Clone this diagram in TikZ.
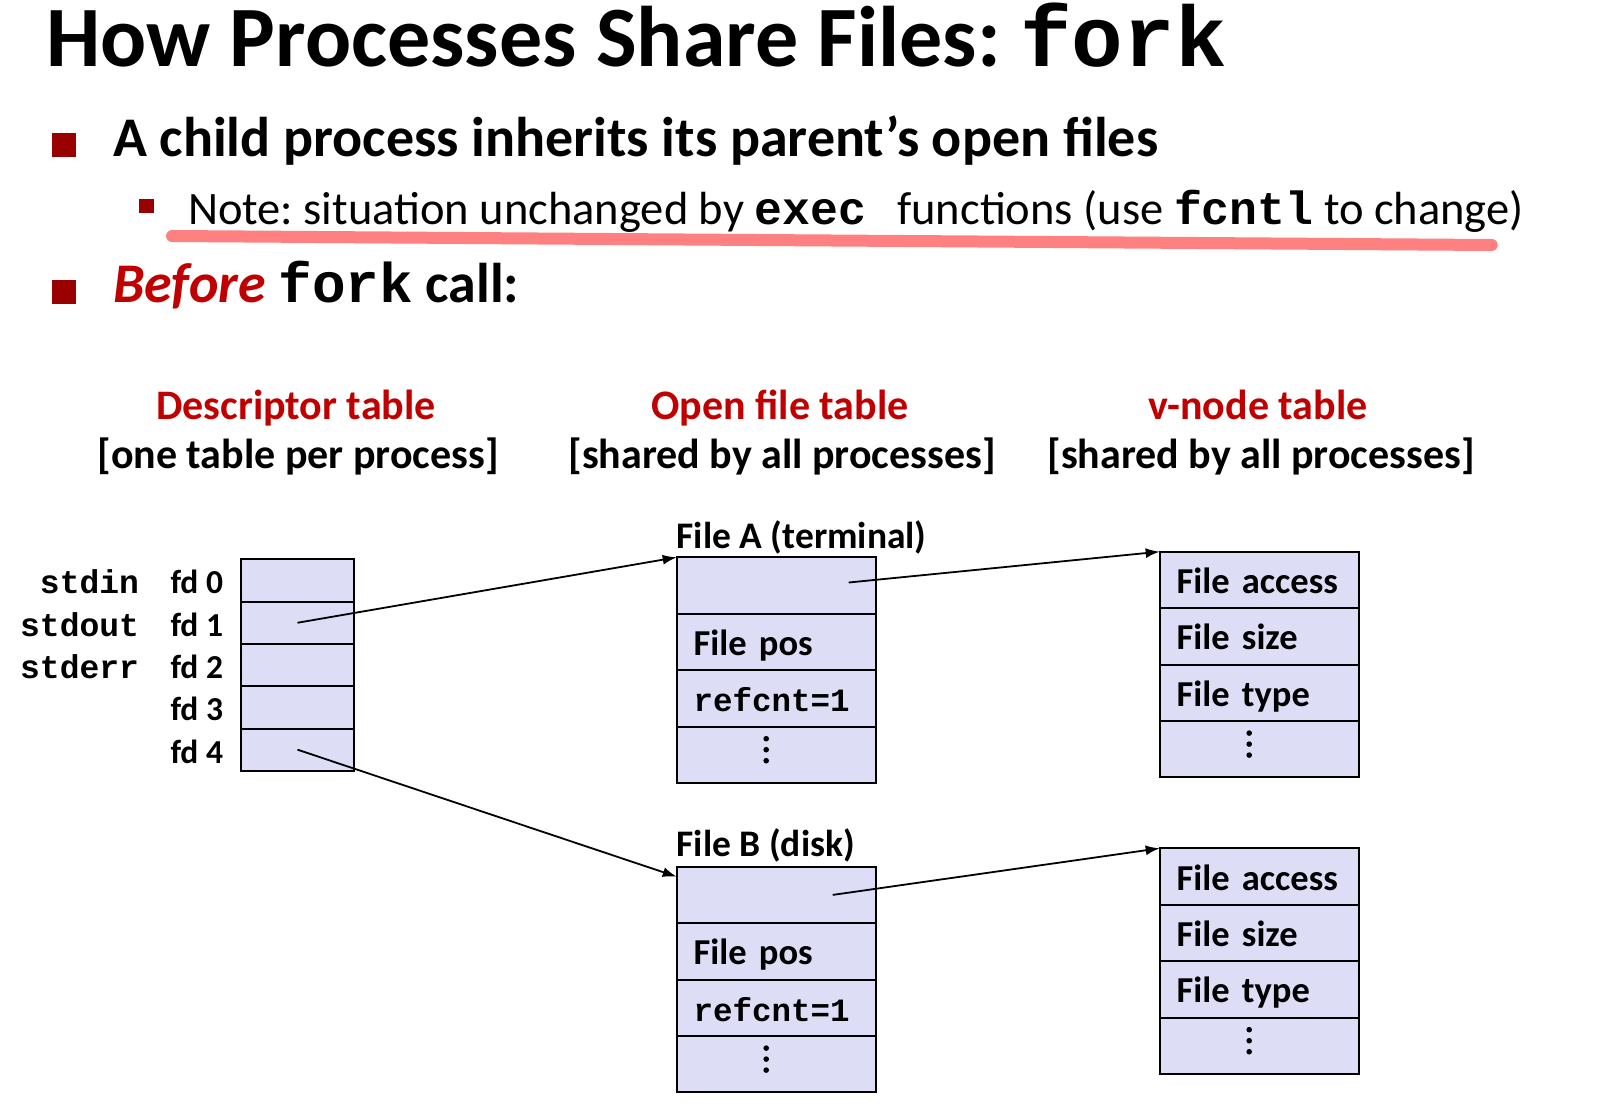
\documentclass[tikz,border=0pt]{standalone}
\usepackage{fontspec}
\setmainfont{Carlito}
\setmonofont{Liberation Mono}
\usetikzlibrary{positioning,calc,arrows.meta,backgrounds}
\definecolor{cellfill}{RGB}{221,221,245}
\definecolor{headred}{RGB}{192,0,0}
\definecolor{bulletred}{RGB}{153,0,0}
\definecolor{notepink}{RGB}{255,128,128}
\frenchspacing

\begin{document}
\begin{tikzpicture}[
    x=1pt, y=-1pt,
    node distance=0pt,
    every node/.style={inner sep=0pt, outer sep=0pt},
    line/.style={anchor=base west, font=\bfseries\fontsize{56}{67}\selectfont},
    bullet/.style={rectangle, fill=bulletred, minimum size=24pt, anchor=north west},
    head/.style={anchor=base, align=center, font=\bfseries\fontsize{42}{50}\selectfont},
    cell/.style={rectangle, draw, line width=2pt, fill=cellfill},
    fdcell/.style={cell, minimum width=113pt, minimum height=42.3pt},
    filecell/.style={cell, minimum width=199pt, minimum height=56.4pt, text width=165pt, inner xsep=17pt, text height=27pt, text depth=0pt, align=left, font=\bfseries\fontsize{36.5}{44}\selectfont},
    monocell/.style={filecell, font=\ttfamily\bfseries\fontsize{32.5}{39}\selectfont},
    filetitle/.style={anchor=base west, font=\bfseries\fontsize{37.5}{45}\selectfont},
    fdlabel/.style={anchor=base west, font=\bfseries\fontsize{33.5}{40}\selectfont},
    stdlabel/.style={anchor=base east, font=\ttfamily\bfseries\fontsize{33}{40}\selectfont},
    arrow/.style={-{Latex[length=14pt, width=10pt]}, line width=1.8pt}
]
\useasboundingbox (0,0) rectangle (1610,1112);

\node[line, font=\bfseries\fontsize{86}{103}\selectfont] (title) at (46,66.7) {How Processes Share Files: {\ttfamily fork}};

\node[bullet] (b1) at (52,132.7) {};
\node[line] (inherit) at (113,156.7) {A child process inherits its parent’s open files};
\node[bullet, minimum width=15.5pt, minimum height=14.3pt] (b2) at (138.5,199) {};
\node[line, font=\fontsize{46.5}{56}\selectfont] (note) at (188,224) {Note: situation unchanged by {\ttfamily\bfseries exec}\hspace*{31pt}functions (use {\ttfamily\bfseries fcntl} to change)};
\begin{scope}[on background layer]
\draw[notepink, line width=12pt, line cap=round] ($(note.base west)+(-16,12)$) -- ($(note.base east)+(-32,21)$);
\end{scope}
\node[bullet] (b3) at (52,280) {};
\node[line] (before) at (113,302) {{\color{headred}\itshape Before} {\ttfamily fork} call:};

\node[head, text=headred] (dhead) at (296,419) {Descriptor table};
\node[head] (dsub) at (298,468) {[one table per process]};
\node[head, text=headred] (ohead) at (780,419) {Open file table};
\node[head] (osub) at (782,468) {[shared by all processes]};
\node[head, text=headred] (vhead) at (1258,419) {v-node table};
\node[head] (vsub) at (1261,468) {[shared by all processes]};

\node[fdcell, anchor=north west] (fd0) at (241,559.3) {};
\foreach \i [evaluate=\i as \j using int(\i-1)] in {1,...,4}
    \node[fdcell, below=of fd\j] (fd\i) {};
\foreach \i/\name in {0/stdin,1/stdout,2/stderr}
    \node[stdlabel] (std\i) at ($(fd\i.west)+(-102,13.5)$) {\name};
\foreach \i in {0,...,4}
    \node[fdlabel] (fdl\i) at ($(fd\i.west)+(-70.5,13.5)$) {fd \i};

\node[filetitle] (atitle) at (676.7,548) {File A (terminal)};
\node[filecell, anchor=north west] (fa0) at (676.7,557.3) {};
\node[filecell, below=of fa0] (fa1) {File pos};
\node[monocell, below=of fa1] (fa2) {refcnt=1};
\node[filecell, below=of fa2] (fa3) {};

\node[filetitle] (btitle) at (676.7,856.7) {File B (disk)};
\node[filecell, anchor=north west] (fb0) at (676.7,866.7) {};
\node[filecell, below=of fb0] (fb1) {File pos};
\node[monocell, below=of fb1] (fb2) {refcnt=1};
\node[filecell, below=of fb2] (fb3) {};

\node[filecell, anchor=north west] (va0) at (1159.7,551.7) {File access};
\node[filecell, below=of va0] (va1) {File size};
\node[filecell, below=of va1] (va2) {File type};
\node[filecell, below=of va2] (va3) {};

\node[filecell, anchor=north west] (vb0) at (1159.7,848.3) {File access};
\node[filecell, below=of vb0] (vb1) {File size};
\node[filecell, below=of vb1] (vb2) {File type};
\node[filecell, below=of vb2] (vb3) {};

\foreach \c in {fa3,fb3,va3,vb3}
    \foreach \d in {-11,0,11}
        \fill ($(\c.center)+(-10,-5+\d)$) circle (2.8);

\draw[arrow] (fd1.center) -- (fa0.north west);
\draw[arrow] (fd4.center) -- ([yshift=-10pt]fb0.north west);
\draw[arrow] ([xshift=-27pt, yshift=3pt]fa0.east) -- (va0.north west);
\draw[arrow] ([xshift=-43pt]fb0.east) -- (vb0.north west);

\end{tikzpicture}
\end{document}
